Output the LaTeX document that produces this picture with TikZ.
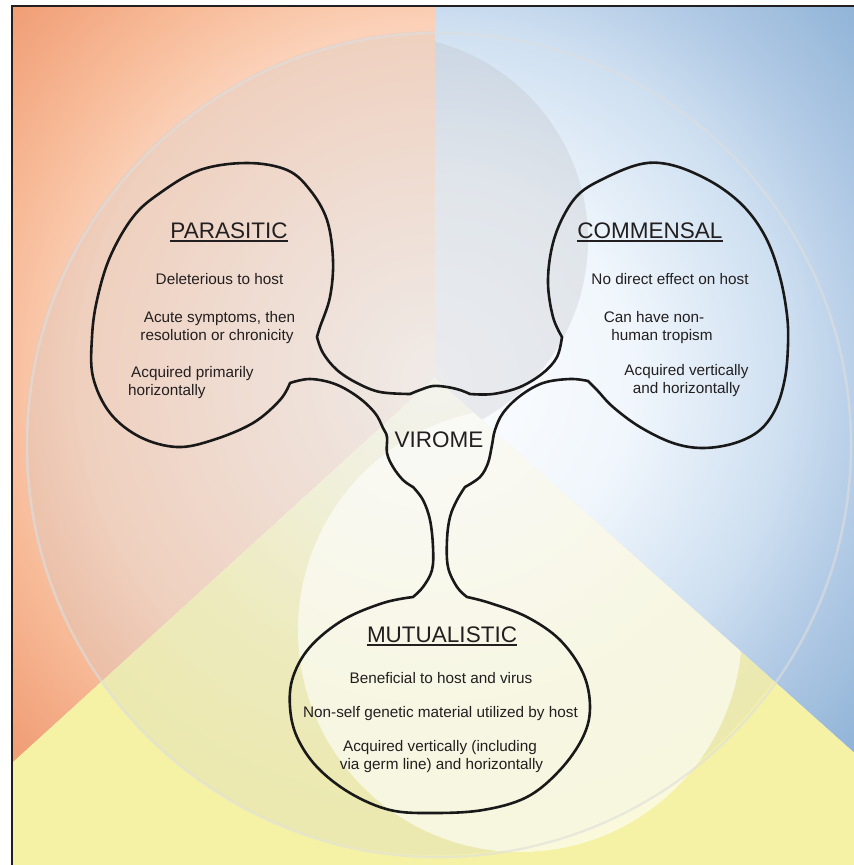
\documentclass[tikz,border=0pt]{standalone}
\usepackage{fontspec}
\setmainfont{Liberation Sans}
\usetikzlibrary{calc}
\definecolor{ink}{RGB}{35,31,32}
\definecolor{ink2}{RGB}{25,25,25}
\definecolor{or0}{RGB}{253,246,240}
\definecolor{or1}{RGB}{251,226,210}
\definecolor{or2}{RGB}{251,210,185}
\definecolor{or3}{RGB}{247,185,150}
\definecolor{or4}{RGB}{240,158,118}
\definecolor{bl0}{RGB}{253,254,255}
\definecolor{bl1}{RGB}{240,246,252}
\definecolor{bl2}{RGB}{207,224,241}
\definecolor{bl3}{RGB}{175,200,228}
\definecolor{bl4}{RGB}{145,180,215}
\definecolor{ye0}{RGB}{255,255,248}
\definecolor{ye1}{RGB}{252,251,220}
\definecolor{ye2}{RGB}{248,245,185}
\definecolor{ye3}{RGB}{245,242,165}
\definecolor{grayov}{RGB}{205,205,210}
\definecolor{grayup}{RGB}{190,192,198}
\definecolor{ringc}{RGB}{222,222,222}
% 25bp of a shading = radius of the shaded circle (700pt): 1bp = 28pt
\pgfdeclareradialshading{orshade}{\pgfpoint{0bp}{0bp}}{color(0bp)=(or0); color(7.1bp)=(or1); color(12.5bp)=(or2); color(16.1bp)=(or3); color(20bp)=(or4); color(50bp)=(or4)}
\pgfdeclareradialshading{blshade}{\pgfpoint{0bp}{0bp}}{color(0bp)=(bl0); color(7.1bp)=(bl1); color(12.5bp)=(bl2); color(16.1bp)=(bl3); color(20bp)=(bl4); color(50bp)=(bl4)}
\pgfdeclareradialshading{yeshade}{\pgfpoint{0bp}{0bp}}{color(0bp)=(ye0); color(5.4bp)=(ye1); color(10.7bp)=(ye2); color(16.1bp)=(ye3); color(50bp)=(ye3)}
\def\orwedge{(435,378) -- (435,0) -- (0,0) -- (0,774) -- cycle}
\def\blwedge{(435,378) -- (435,0) -- (860,0) -- (860,758) -- cycle}
\def\yewedge{(435,378) -- (0,774) -- (0,870) -- (860,870) -- (860,758) -- cycle}
\begin{document}
\begin{tikzpicture}[x=1pt,y=-1pt,
  body/.style={font=\fontsize{15.3}{18}\selectfont, text=ink, inner sep=0pt, anchor=base},
  head/.style={font=\fontsize{22.5}{27}\selectfont, text=ink, inner sep=0pt, anchor=base},
  outline/.style={line width=2.6pt, draw=ink2, line join=round},
  uline/.style={line width=1.4pt, draw=ink},
  frameline/.style={line width=2pt, draw=ink}]
\useasboundingbox (0,0) rectangle (854,865);
\fill[white] (0,0) rectangle (854,865);
\begin{scope}
  \clip (12,6) rectangle (854,865);
  % orange wedge
  \begin{scope}
    \clip \orwedge;
    \shade[shading=orshade] (435,378) circle (700);
    \fill[grayov, opacity=0.26] (437,443) circle (412);
  \end{scope}
  % blue wedge
  \begin{scope}
    \clip \blwedge;
    \shade[shading=blshade] (435,378) circle (700);
    \fill[grayup, opacity=0.3] (383,240) circle (205);
  \end{scope}
  % yellow wedge
  \begin{scope}
    \clip \yewedge;
    \shade[shading=yeshade] (435,378) circle (700);
    \fill[grayov, opacity=0.24] (437,443) circle (412);
    \fill[white, opacity=0.6] (520,630) circle (222);
  \end{scope}
  \draw[ringc, opacity=0.6, line width=2.5pt] (439,445) circle (412);
\end{scope}
% frame
\draw[frameline] (12,866) -- (12,6) -- (855,6);
% virome outline
\draw[outline]
  plot[smooth, tension=0.6] coordinates {(317,337) (323,353) (337,370) (357,383) (380,392) (410,394)}
  -- plot[smooth, tension=0.6] coordinates {(410,394) (420,390) (433,386) (447,387) (460,390) (470,394)}
  -- plot[smooth, tension=0.6] coordinates {(470,394) (493,394) (520,387) (543,373) (557,357) (562,337)}
  -- plot[smooth, tension=0.6] coordinates {(562,337) (553,317) (548,283) (552,247) (563,217) (580,193) (607,177) (637,165) (660,163) (687,170) (720,187) (747,210) (767,240) (780,277) (787,315) (788,345) (785,378) (776,408) (760,430) (735,443) (703,448) (673,443) (640,427) (613,407) (597,390) (588,381)}
  -- plot[smooth, tension=0.6] coordinates {(588,381) (570,379) (543,383) (520,396) (503,413) (495,430) (492,445) (488,463) (480,477) (465,487)}
  -- plot[smooth, tension=0.6] coordinates {(465,487) (457,500) (450,517) (447,540) (448,567) (457,587) (467,597)}
  -- plot[smooth, tension=0.6] coordinates {(467,597) (490,603) (527,617) (560,640) (583,673) (590,707) (583,737) (560,770) (527,797) (483,810) (433,813) (390,810) (350,793) (317,767) (297,737) (290,707) (293,677) (310,647) (343,620) (383,603) (413,597)}
  -- plot[smooth, tension=0.6] coordinates {(413,597) (423,587) (432,570) (433,547) (430,520) (423,500) (413,487)}
  -- plot[smooth, tension=0.6] coordinates {(413,487) (403,480) (393,467) (387,453) (387,437) (383,428) (375,413) (358,397) (335,384) (310,379) (290,383)}
  -- plot[smooth, tension=0.6] coordinates {(290,383) (280,400) (253,423) (213,440) (177,447) (140,437) (110,413) (93,377) (92,337) (97,300) (110,257) (133,217) (160,193) (200,170) (247,163) (287,170) (310,190) (327,220) (333,260) (330,297) (320,327) (317,337)}
  -- cycle;
% headings
\node[head] (hpar) at (229,238.5) {PARASITIC};
\draw[uline] ([yshift=-2.5pt]hpar.base west) -- ([yshift=-2.5pt]hpar.base east);
\node[head] (hcom) at (650,238.5) {COMMENSAL};
\draw[uline] ([yshift=-2.5pt]hcom.base west) -- ([yshift=-2.5pt]hcom.base east);
\node[head] (hmut) at (442,642.5) {MUTUALISTIC};
\draw[uline] ([yshift=-2.5pt]hmut.base west) -- ([yshift=-2.5pt]hmut.base east);
\node[head] (vir) at (439,447) {VIROME};
% parasitic text
\node[body] (p1) at (219.5,284) {Deleterious to host};
\node[body] (p2) at (219.5,322) {Acute symptoms, then};
\node[body] (p3) at (217,340) {resolution or chronicity};
\node[body, anchor=base west] (p4) at (131,377) {Acquired primarily};
\node[body, anchor=base west] (p5) at (128,395) {horizontally};
% commensal text
\node[body] (c1) at (670,284) {No direct effect on host};
\node[body] (c2) at (654,322) {Can have non-};
\node[body] (c3) at (662,340) {human tropism};
\node[body] (c4) at (686.5,375.5) {Acquired vertically};
\node[body] (c5) at (686.5,393.5) {and horizontally};
% mutualistic text
\node[body] (m1) at (441,683) {Beneficial to host and virus};
\node[body] (m2) at (440.5,717.5) {Non-self genetic material utilized by host};
\node[body] (m3) at (440,751) {Acquired vertically (including};
\node[body] (m4) at (441.5,769) {via germ line) and horizontally};
\end{tikzpicture}
\end{document}
